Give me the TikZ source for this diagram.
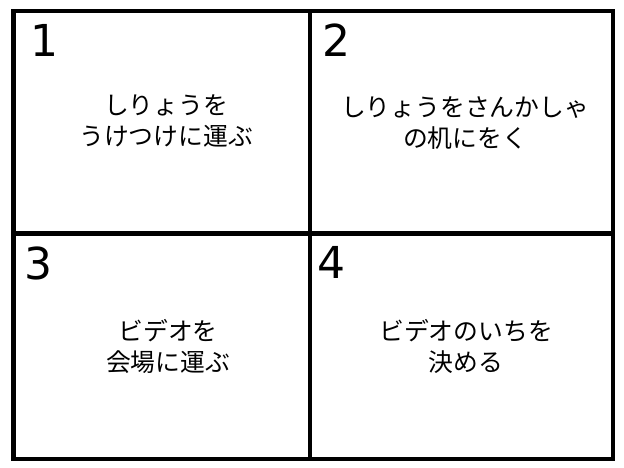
\documentclass[tikz,border=0pt]{standalone}
\usepackage{fontspec}
\setmainfont{DejaVu Sans}
\newfontfamily\jpfont{Noto Sans CJK JP}
\begin{document}
\begin{tikzpicture}[x=1pt, y=-1pt,
				frame/.style={line width=4.5pt},
				num/.style={anchor=base west, inner sep=0pt, font=\fontsize{44}{44}\selectfont},
				task/.style={align=center, inner sep=0pt, font=\jpfont\fontsize{24.8}{31}\selectfont}
				]
				
				\useasboundingbox (0, 0) rectangle (624, 468);
				
				\draw[frame] (13.5, 11) rectangle (613, 459);
				\draw[frame] (310, 11) -- (310, 459);
				\draw[frame] (13.5, 233.5) -- (613, 233.5);
				
				\node[num] (n1) at (30, 57) {1};
				\node[num] (n2) at (322, 57) {2};
				\node[num] (n3) at (24, 279) {3};
				\node[num] (n4) at (317, 278) {4};
				
				\node[task] (t1) at (166, 121) {しりょうを\\うけつけに運ぶ};
				\node[task] (t2) at (465, 123) {しりょうをさんかしゃ\\の机にをく};
				\node[task] (t3) at (168, 346) {ビデオを\\会場に運ぶ};
				\node[task] (t4) at (466, 346) {ビデオのいちを\\決める};
				
			\end{tikzpicture}
\end{document}
